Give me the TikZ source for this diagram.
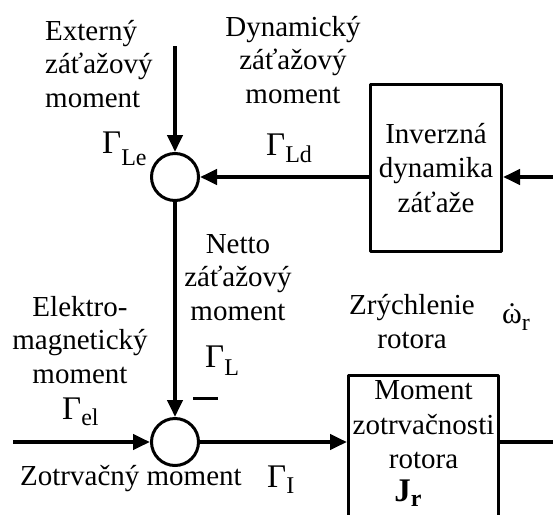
\documentclass[tikz,border=0pt]{standalone}
\usepackage{fontspec}
\setmainfont{Liberation Serif}
\usetikzlibrary{arrows.meta,positioning}
% Gamma with a lowered upright index
\newcommand{\gsub}[2]{{\fontsize{33}{33}\selectfont Γ}\raisebox{-#2}{\fontsize{24}{24}\selectfont #1}}

\begin{document}
\begin{tikzpicture}[x=1pt,y=-1pt,line join=round]
  \tikzset{
    txt/.style={font=\fontsize{29}{33.5}\selectfont,inner sep=0pt,align=center},
    sumnode/.style={circle,draw,line width=3pt,minimum size=47pt,inner sep=0pt},
    block/.style={rectangle,draw,line width=3pt,inner xsep=0pt,inner ysep=6pt,align=center,
      font=\fontsize{29}{34.5}\selectfont},
    sig/.style={line width=4pt,-{Triangle[length=17pt,width=15pt]}},
    wire/.style={line width=4pt}
  }
  \useasboundingbox (0,0) rectangle (553,514);
  \clip (0,0) rectangle (553,514);

  % summing points and blocks
  \node[sumnode] (c1) at (175,177) {};
  \node[sumnode] (c2) at (175,442) {};
  \node[block,minimum width=131pt,minimum height=167pt] (inv) at (436,168)
    {Inverzná\\dynamika\\záťaže};
  \node[block,minimum width=150pt,anchor=north] (jr) at (423.5,373.5)
    {Moment\\zotrvačnosti\\rotora\rule[-70pt]{0pt}{0pt}};
  \node[inner sep=0pt,anchor=base,font=\bfseries\fontsize{33}{33}\selectfont] (jrsym) at (408,501)
    {J\raisebox{-5pt}{\fontsize{24}{24}\selectfont r}};

  % labels (base = last line)
  \node[txt,align=left,anchor=base west] (ext) at (45,107) {Externý\\záťažový\\moment};
  \node[txt,anchor=base] (dyn) at (293,103) {Dynamický\\záťažový\\moment};
  \node[txt,anchor=base west] (gle) at (102,153) {\gsub{Le}{12pt}};
  \node[txt,anchor=base west] (gld) at (266,155) {\gsub{Ld}{7pt}};
  \node[txt,anchor=base] (net) at (238,320) {Netto\\záťažový\\moment};
  \node[txt,anchor=base west] (gl) at (205,367) {\gsub{L}{8pt}};
  \node[inner sep=0pt] (minus) at (205.5,398) {\rule{25pt}{3pt}};
  \node[txt,anchor=base] (elm) at (80,383) {Elektro-\\magnetický\\moment};
  \node[txt,anchor=base west] (gel) at (62,419) {\gsub{el}{6pt}};
  \node[txt,anchor=base west] (zotr) at (20,485) {Zotrvačný moment};
  \node[txt,anchor=base west] (gi) at (267,487) {\gsub{I}{6pt}};
  \node[txt,anchor=base] (zry) at (412,348) {Zrýchlenie\\rotora};
  \node[txt,anchor=base west] (acc) at (502,323)
    {{\fontsize{30}{30}\selectfont\ooalign{ω\cr\hidewidth˙\hidewidth\cr}}\raisebox{-7pt}{\fontsize{24}{24}\selectfont r}};

  % free ends
  \coordinate (extin) at (175,46);
  \coordinate (omin) at (553,177);
  \coordinate (elin) at (13,442);
  \coordinate (out) at (553,442);

  % signal lines
  \draw[sig] (extin) -- (c1.north);
  \draw[sig] (omin) -- (inv.east |- c1);
  \draw[sig] (inv.west |- c1) -- (c1.east);
  \draw[sig] (c1.south) -- (c2.north);
  \draw[sig] (elin) -- (c2.west);
  \draw[sig] (c2.east) -- (jr.west |- c2);
  \draw[wire] (jr.east |- c2) -- (out);
\end{tikzpicture}
\end{document}
